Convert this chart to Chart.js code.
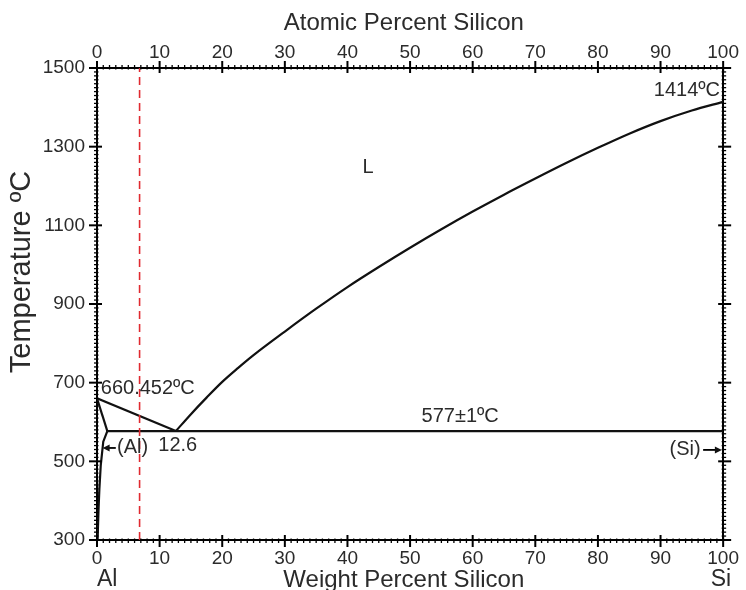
<!DOCTYPE html>
<html>
<head>
<meta charset="utf-8">
<script src="https://cdn.jsdelivr.net/npm/chart.js@4.4.1/dist/chart.umd.min.js"></script>
<style>
html,body{margin:0;padding:0;background:#fff;}
#wrap{width:746px;height:590px;position:relative;}
</style>
</head>
<body>
<div id="wrap"><canvas id="c"></canvas></div>
<script>
// ---- tick labels ----
const weightTicks = [0, 10, 20, 30, 40, 50, 60, 70, 80, 90, 100];
const atomicTicks = [0, 10, 20, 30, 40, 50, 60, 70, 80, 90, 100];
const tempTicks = [300, 500, 700, 900, 1100, 1300, 1500];

// ---- phase boundaries (weight % Si, temperature °C) ----
const liquidusAlX = [0, 12.6];
const liquidusAlT = [660.452, 577];

const liquidusSiX = [12.6, 15, 17.5, 20, 22.5, 25, 30, 35, 40, 45, 50, 55, 60, 65, 70, 75, 80, 85, 90, 95, 100];
const liquidusSiT = [577, 620, 662, 702, 737, 770, 830, 888, 943, 994, 1043, 1090, 1135, 1178, 1219, 1259, 1297, 1333, 1365, 1392, 1414];

const solidusX = [0, 1.65];
const solidusT = [660.452, 577];

const solvusX = [1.65, 1.0, 0.6, 0.38, 0.25, 0.15, 0.1];
const solvusT = [577, 550, 490, 430, 380, 330, 300];

const eutecticX = [1.65, 100];
const eutecticT = [577, 577];

const alloyX = [6.8, 6.8];
const alloyT = [300, 1500];

const pts = (xs, ys) => xs.map((x, i) => ({ x: x, y: ys[i] }));

const FONT = "'Liberation Sans', Arial, Helvetica, sans-serif";
const TEXT = '#2b2b2b';

// annotation texts (anchored in data coordinates)
const notes = [
  { text: 'L', x: 43.3, y: 1246, align: 'center', size: 20 },
  { text: '660.452ºC', x: 0.6, y: 686, align: 'left', size: 20 },
  { text: '12.6', x: 12.9, y: 541, align: 'center', size: 20 },
  { text: '(Al)', x: 3.2, y: 534, align: 'left', size: 20 },
  { text: '(Si)', x: 96.4, y: 529, align: 'right', size: 20 },
  { text: '577±1ºC', x: 58.0, y: 613, align: 'center', size: 20 },
  { text: '1414ºC', x: 99.5, y: 1444, align: 'right', size: 20 }
];
const arrows = [
  { x1: 3.0, x2: 0.9, y: 534 },
  { x1: 96.8, x2: 99.8, y: 529 }
];

const lineDs = (xs, ys, extra) => Object.assign({
  data: pts(xs, ys),
  borderColor: '#111',
  borderWidth: 2.2,
  pointRadius: 0,
  fill: false,
  tension: 0,
  xAxisID: 'x',
  yAxisID: 'y'
}, extra || {});

const decor = {
  id: 'decor',
  afterDraw(chart) {
    const { ctx, chartArea: a, scales } = chart;
    const x = scales.x, y = scales.y;
    ctx.save();
    ctx.strokeStyle = '#000';
    const seg = (x1, y1, x2, y2) => { ctx.beginPath(); ctx.moveTo(x1, y1); ctx.lineTo(x2, y2); ctx.stroke(); };
    // x-axis ticks (bottom & top)
    for (let v = 0; v <= 100; v += 1) {
      const px = x.getPixelForValue(v);
      const major = weightTicks.includes(v);
      const out = major ? 7 : 3, inn = major ? 5 : 1.5;
      ctx.lineWidth = major ? 2 : 1.3;
      seg(px, a.bottom - inn, px, a.bottom + out);
      seg(px, a.top + inn, px, a.top - out);
    }
    // y-axis ticks (left & right)
    for (let v = 300; v <= 1500; v += 10) {
      const py = y.getPixelForValue(v);
      const major = tempTicks.includes(v);
      const out = major ? 8 : 3, inn = major ? 5 : 1.5;
      ctx.lineWidth = major ? 2 : 1.3;
      seg(a.left - out, py, a.left + inn, py);
      seg(a.right + out, py, a.right - inn, py);
    }
    // arrows
    ctx.fillStyle = '#111';
    ctx.lineWidth = 1.8;
    arrows.forEach(ar => {
      const p1 = x.getPixelForValue(ar.x1), p2 = x.getPixelForValue(ar.x2), py = y.getPixelForValue(ar.y);
      const dir = Math.sign(p2 - p1);
      seg(p1, py, p2 - dir * 4, py);
      ctx.beginPath();
      ctx.moveTo(p2, py);
      ctx.lineTo(p2 - dir * 7, py - 3.5);
      ctx.lineTo(p2 - dir * 7, py + 3.5);
      ctx.closePath();
      ctx.fill();
    });
    // annotation text
    ctx.fillStyle = TEXT;
    ctx.textBaseline = 'middle';
    notes.forEach(n => {
      ctx.font = n.size + 'px ' + FONT;
      ctx.textAlign = n.align;
      ctx.fillText(n.text, x.getPixelForValue(n.x), y.getPixelForValue(n.y));
    });
    // titles and end labels
    ctx.font = '24px ' + FONT;
    ctx.textAlign = 'center';
    const cx = x.getPixelForValue(49);
    ctx.fillText('Atomic Percent Silicon', cx, 23);
    ctx.fillText('Weight Percent Silicon', cx, 580);
    ctx.font = '23px ' + FONT;
    ctx.textAlign = 'left';
    ctx.fillText('Al', x.getPixelForValue(0), 580);
    ctx.textAlign = 'right';
    ctx.fillText('Si', x.getPixelForValue(100) + 8, 580);
    ctx.save();
    ctx.translate(22, 272);
    ctx.rotate(-Math.PI / 2);
    ctx.textAlign = 'center';
    ctx.font = '29px ' + FONT;
    ctx.fillText('Temperature ºC', 0, 0);
    ctx.restore();
    ctx.restore();
  }
};

const tickFont = { family: FONT, size: 19 };
const plain = v => String(v);

new Chart(document.getElementById('c'), {
  type: 'line',
  data: {
    datasets: [
      lineDs(alloyX, alloyT, { borderColor: '#e02a30', borderWidth: 1.6, borderDash: [8, 5] }),
      lineDs(liquidusAlX, liquidusAlT),
      lineDs(liquidusSiX, liquidusSiT, { cubicInterpolationMode: 'monotone' }),
      lineDs(solidusX, solidusT),
      lineDs(solvusX, solvusT),
      lineDs(eutecticX, eutecticT)
    ]
  },
  options: {
    responsive: true,
    maintainAspectRatio: false,
    animation: false,
    layout: { padding: 0 },
    plugins: { legend: { display: false }, tooltip: { enabled: false } },
    scales: {
      x: {
        type: 'linear', position: 'bottom', min: 0, max: 100,
        afterBuildTicks: s => { s.ticks = weightTicks.map(v => ({ value: v })); },
        ticks: { font: tickFont, color: TEXT, padding: 7, maxRotation: 0, autoSkip: false, callback: plain },
        grid: { display: false, drawTicks: false },
        border: { display: true, color: '#000', width: 2 },
        afterFit: s => { s.height = 50; }
      },
      x2: {
        type: 'linear', position: 'top', min: 0, max: 100,
        afterBuildTicks: s => { s.ticks = atomicTicks.map(v => ({ value: v })); },
        ticks: { font: tickFont, color: TEXT, padding: 4, maxRotation: 0, autoSkip: false, callback: plain },
        grid: { display: false, drawTicks: false },
        border: { display: true, color: '#000', width: 2 },
        afterFit: s => { s.height = 68; }
      },
      y: {
        type: 'linear', position: 'left', min: 300, max: 1500,
        afterBuildTicks: s => { s.ticks = tempTicks.map(v => ({ value: v })); },
        ticks: { font: tickFont, color: TEXT, padding: 12, autoSkip: false, callback: plain },
        grid: { display: false, drawTicks: false },
        border: { display: true, color: '#000', width: 2 },
        afterFit: s => { s.width = 97; }
      },
      y2: {
        type: 'linear', position: 'right', min: 300, max: 1500,
        ticks: { display: false },
        grid: { display: false, drawTicks: false },
        border: { display: true, color: '#000', width: 2 },
        afterFit: s => { s.width = 18; }
      }
    }
  },
  plugins: [decor]
});
</script>
</body>
</html>
